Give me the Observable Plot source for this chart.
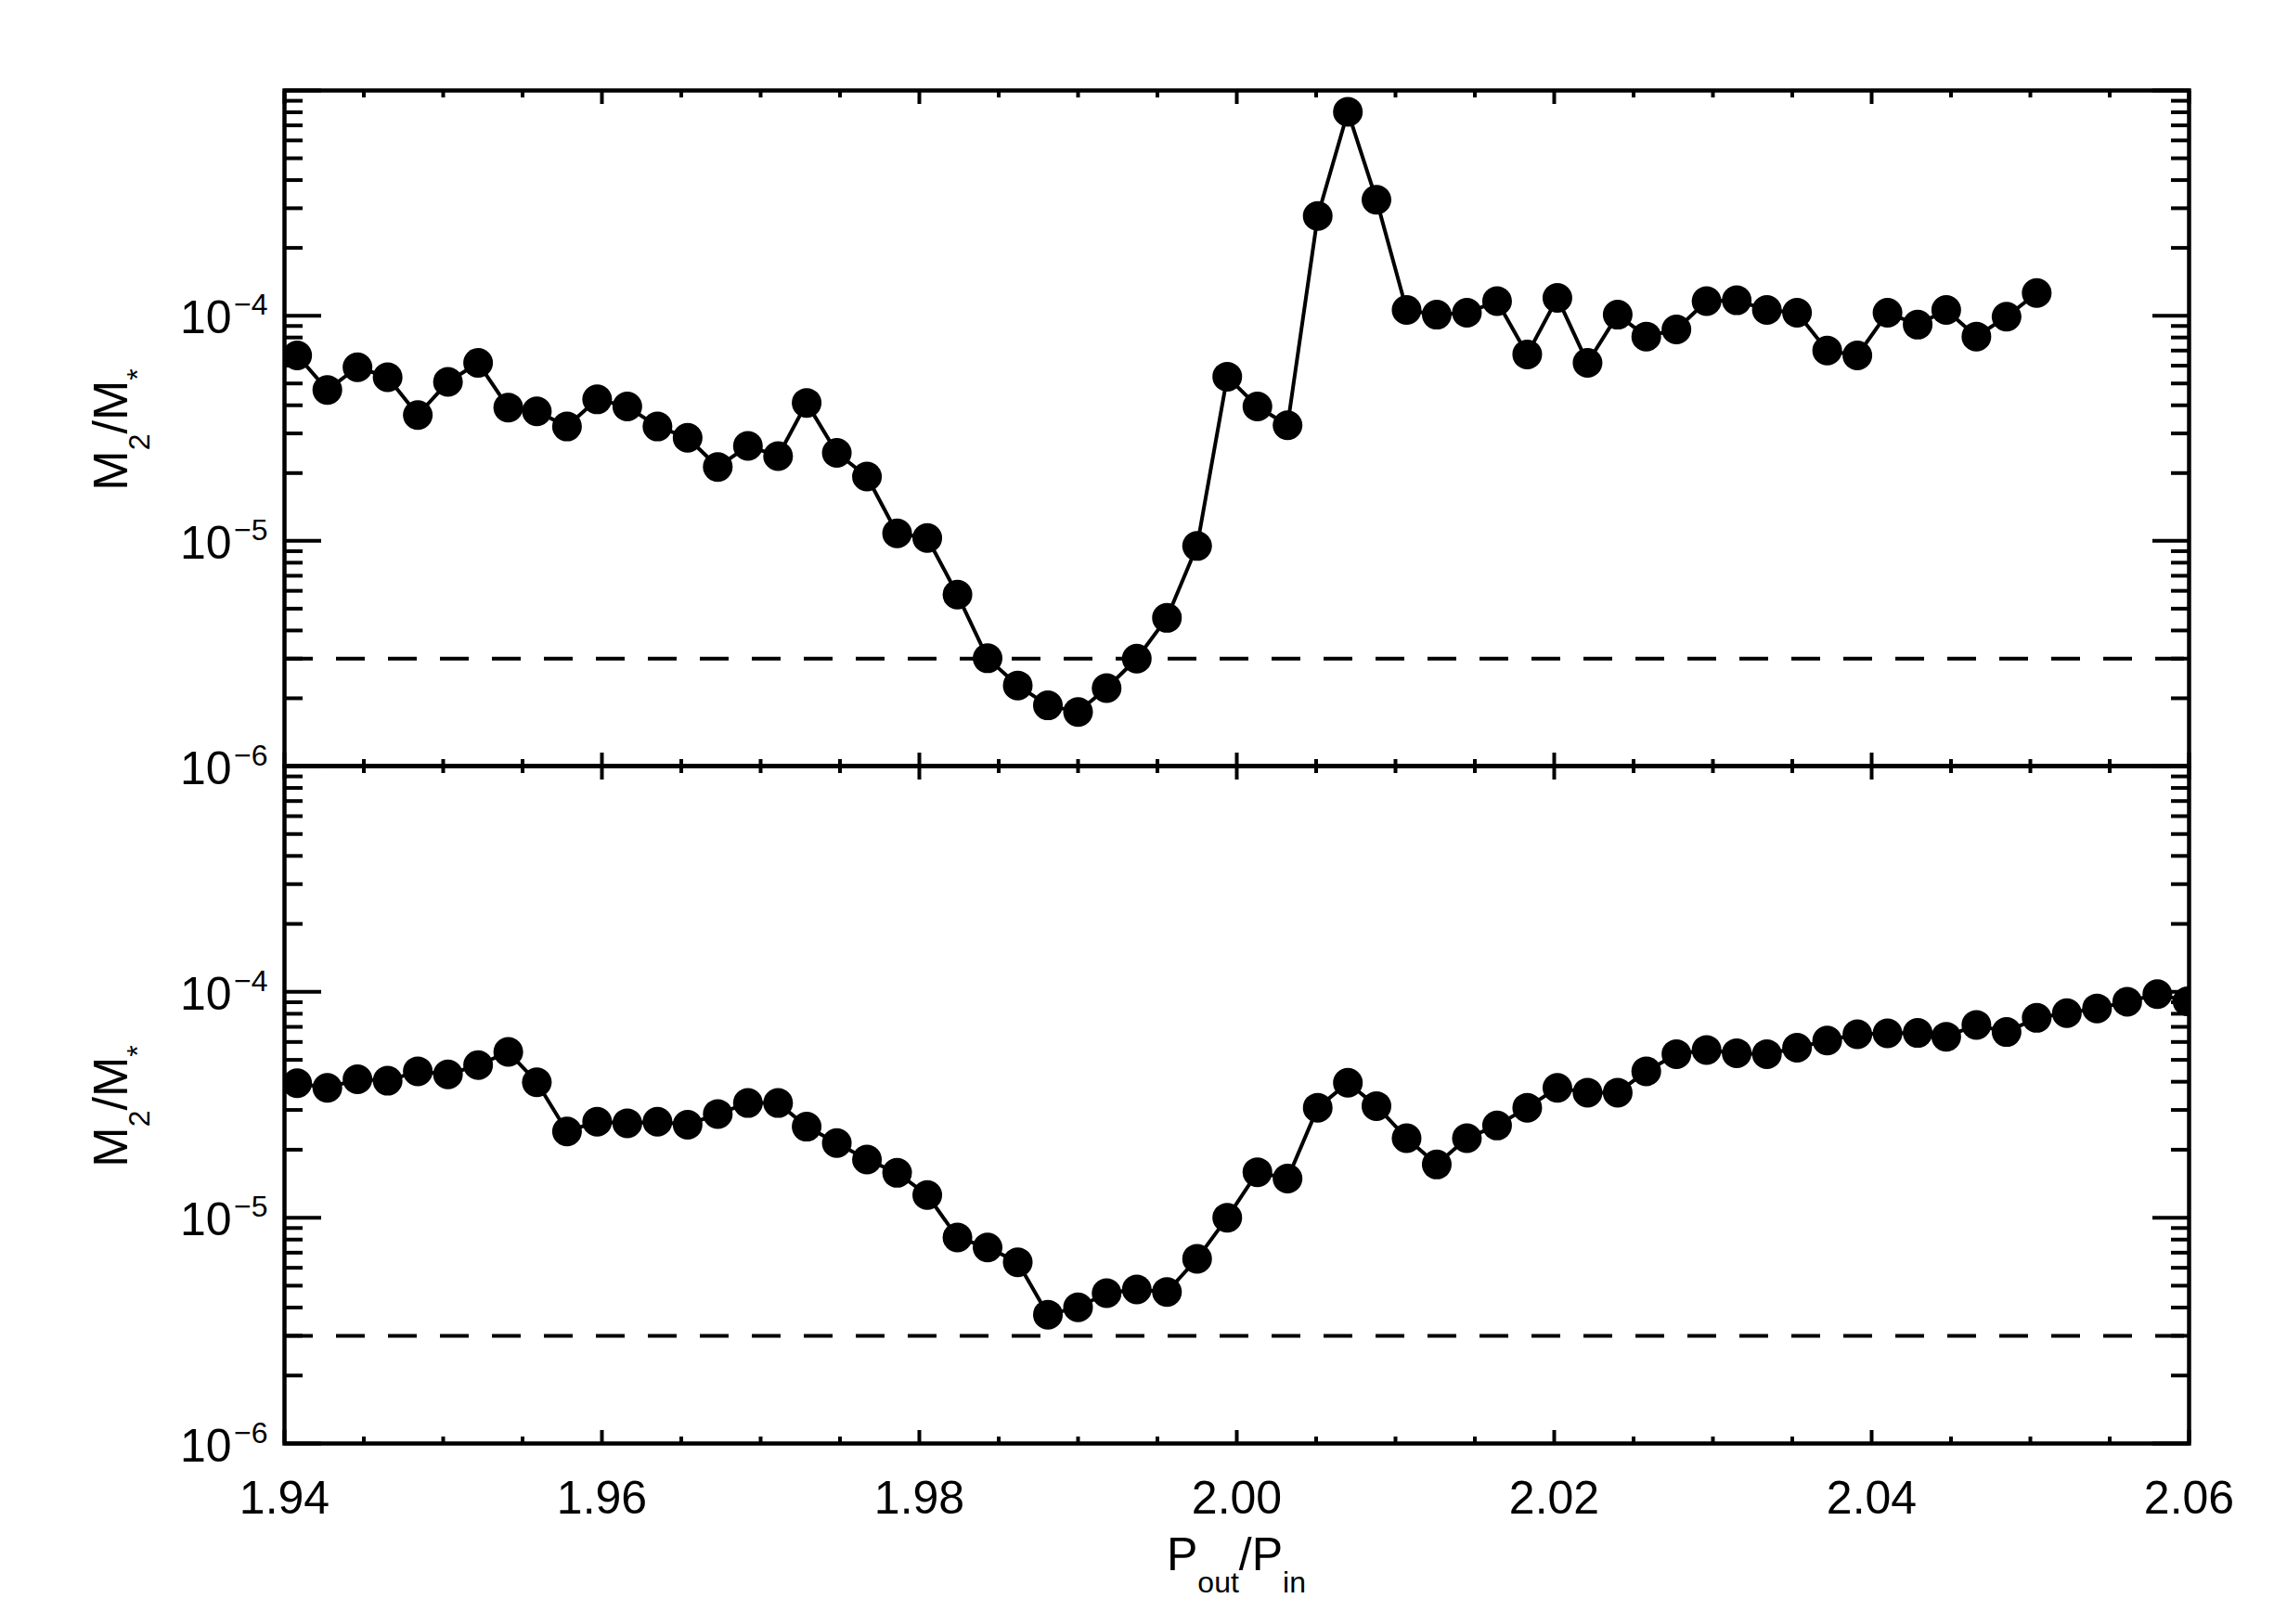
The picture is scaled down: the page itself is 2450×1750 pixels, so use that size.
<!DOCTYPE html>
<html>
<head>
<meta charset="utf-8">
<script src="https://cdn.jsdelivr.net/npm/d3@7"></script>
<script src="https://cdn.jsdelivr.net/npm/@observablehq/plot@0.6"></script>
<style>
  html, body { margin: 0; padding: 0; background: #fff; }
  #chart { position: relative; width: 2450px; height: 1750px; }
  #chart svg { display: block; overflow: visible; }
</style>
</head>
<body>
<div id="chart"></div>
<script>
// Period ratio P_out/P_in of each simulation
const ratio = [
  1.9408, 1.9427, 1.9446, 1.9465, 1.9484, 1.9503, 1.9522, 1.9541, 1.9559, 1.9578,
  1.9597, 1.9616, 1.9635, 1.9654, 1.9673, 1.9692, 1.9711, 1.9729, 1.9748, 1.9767,
  1.9786, 1.9805, 1.9824, 1.9843, 1.9862, 1.9881, 1.9900, 1.9918, 1.9937, 1.9956,
  1.9975, 1.9994, 2.0013, 2.0032, 2.0051, 2.0070, 2.0088, 2.0107, 2.0126, 2.0145,
  2.0164, 2.0183, 2.0202, 2.0221, 2.0240, 2.0258, 2.0277, 2.0296, 2.0315, 2.0334,
  2.0353, 2.0372, 2.0391, 2.0410, 2.0429, 2.0447, 2.0466, 2.0485, 2.0504, 2.0523,
  2.0542, 2.0561, 2.0580, 2.0599
];
// Upper panel: M2/M*
const massTop = [
  6.66e-5, 4.68e-5, 5.90e-5, 5.33e-5, 3.62e-5, 5.08e-5, 6.17e-5, 3.91e-5, 3.76e-5, 3.22e-5,
  4.25e-5, 3.95e-5, 3.22e-5, 2.87e-5, 2.13e-5, 2.64e-5, 2.38e-5, 4.10e-5, 2.46e-5, 1.93e-5,
  1.08e-5, 1.03e-5, 5.77e-6, 3.01e-6, 2.28e-6, 1.86e-6, 1.74e-6, 2.22e-6, 3.00e-6, 4.55e-6,
  9.49e-6, 5.36e-5, 3.95e-5, 3.26e-5, 2.77e-4, 8.04e-4, 3.27e-4, 1.06e-4, 1.01e-4, 1.03e-4,
  1.16e-4, 6.73e-5, 1.20e-4, 6.17e-5, 1.01e-4, 8.08e-5, 8.69e-5, 1.16e-4, 1.17e-4, 1.06e-4,
  1.03e-4, 7.00e-5, 6.66e-5, 1.03e-4, 9.12e-5, 1.06e-4, 8.08e-5, 9.90e-5, 1.26e-4
];
// Lower panel: M2/M*
const massBottom = [
  3.94e-5, 3.76e-5, 4.10e-5, 4.04e-5, 4.45e-5, 4.31e-5, 4.74e-5, 5.42e-5, 3.98e-5, 2.41e-5,
  2.66e-5, 2.62e-5, 2.66e-5, 2.58e-5, 2.88e-5, 3.22e-5, 3.22e-5, 2.53e-5, 2.14e-5, 1.81e-5,
  1.58e-5, 1.26e-5, 8.17e-6, 7.38e-6, 6.35e-6, 3.72e-6, 4.01e-6, 4.63e-6, 4.81e-6, 4.69e-6,
  6.58e-6, 1.00e-5, 1.59e-5, 1.49e-5, 3.07e-5, 3.96e-5, 3.12e-5, 2.25e-5, 1.72e-5, 2.25e-5,
  2.56e-5, 3.07e-5, 3.76e-5, 3.58e-5, 3.58e-5, 4.45e-5, 5.30e-5, 5.53e-5, 5.35e-5, 5.30e-5,
  5.66e-5, 6.09e-5, 6.49e-5, 6.55e-5, 6.58e-5, 6.33e-5, 7.14e-5, 6.64e-5, 7.67e-5, 8.05e-5,
  8.45e-5, 9.04e-5, 9.77e-5, 9.08e-5
];
const threshold = [3e-6];

const xDomain = [1.94, 2.06];
const yDomain = [1e-6, 1e-3];
const xMajor = [1.94, 1.96, 1.98, 2.00, 2.02, 2.04, 2.06];
const xMinor = [1.945, 1.95, 1.955, 1.965, 1.97, 1.975, 1.985, 1.99, 1.995,
                2.005, 2.01, 2.015, 2.025, 2.03, 2.035, 2.045, 2.05, 2.055];
const xTickLabels = ["1.94", "1.96", "1.98", "2.00", "2.02", "2.04", "2.06"];
const yMajor = [1e-6, 1e-5, 1e-4, 1e-3];
const yMinor = [2e-6, 3e-6, 4e-6, 5e-6, 6e-6, 7e-6, 8e-6, 9e-6,
                2e-5, 3e-5, 4e-5, 5e-5, 6e-5, 7e-5, 8e-5, 9e-5,
                2e-4, 3e-4, 4e-4, 5e-4, 6e-4, 7e-4, 8e-4, 9e-4];
const yLabelTicks = [1e-6, 1e-5, 1e-4];
const yExponents = ["\u22126", "\u22125", "\u22124"];

const FONT = "'Liberation Sans', Arial, Helvetica, sans-serif";
const W = 2450, ML = 306, MR = 92;
const TICK_W = 4;

function panel(values, {height, marginTop, marginBottom, xLabels}) {
  const data = values.map((m, i) => ({ratio: ratio[i], mass: m}));
  const tickAxes = [
    Plot.axisX(xMajor, {anchor: "bottom", tickSize: -14, strokeWidth: TICK_W, fill: "none"}),
    Plot.axisX(xMinor, {anchor: "bottom", tickSize: -7, strokeWidth: TICK_W, fill: "none"}),
    Plot.axisX(xMajor, {anchor: "top", tickSize: -14, strokeWidth: TICK_W, fill: "none"}),
    Plot.axisX(xMinor, {anchor: "top", tickSize: -7, strokeWidth: TICK_W, fill: "none"}),
    Plot.axisY(yMajor, {anchor: "left", tickSize: -40, strokeWidth: TICK_W, fill: "none"}),
    Plot.axisY(yMinor, {anchor: "left", tickSize: -20, strokeWidth: TICK_W, fill: "none"}),
    Plot.axisY(yMajor, {anchor: "right", tickSize: -40, strokeWidth: TICK_W, fill: "none"}),
    Plot.axisY(yMinor, {anchor: "right", tickSize: -20, strokeWidth: TICK_W, fill: "none"})
  ];
  const labelAxes = [
    Plot.axisY(yLabelTicks, {anchor: "left", tickSize: 0, tickPadding: 57, tickFormat: () => "10",
                        fontSize: 50, dy: 3, label: null}),
    Plot.axisY(yLabelTicks, {anchor: "left", tickSize: 0, tickPadding: 18,
                        tickFormat: d => yExponents[yLabelTicks.indexOf(d)],
                        fontSize: 32, dy: -11, label: null})
  ];
  if (xLabels) {
    labelAxes.push(Plot.axisX(xMajor, {anchor: "bottom", tickSize: 0, tickPadding: 40,
      tickFormat: d => xTickLabels[xMajor.indexOf(d)], fontSize: 50, label: null}));
  }
  const svg = Plot.plot({
    width: W, height, marginTop, marginBottom, marginLeft: ML, marginRight: MR,
    style: {fontFamily: FONT, fontSize: "50px", color: "black", background: "white", overflow: "visible"},
    x: {type: "linear", domain: xDomain},
    y: {type: "log", domain: yDomain},
    marks: [
      Plot.ruleY(threshold, {stroke: "black", strokeWidth: 4, strokeDasharray: "31,25"}),
      Plot.line(data, {x: "ratio", y: "mass", stroke: "black", strokeWidth: 4, clip: true}),
      Plot.dot(data, {x: "ratio", y: "mass", r: 16, fill: "black", stroke: "none", clip: true}),
      ...tickAxes,
      ...labelAxes,
      Plot.frame({stroke: "black", strokeWidth: 4.5})
    ]
  });
  // y-axis title M2/M*
  const cy = (marginTop + height - marginBottom) / 2 + 2;
  const t = d3.select(svg).append("text")
    .attr("transform", `translate(137,${cy}) rotate(-90)`)
    .attr("text-anchor", "middle")
    .attr("font-family", FONT)
    .attr("font-size", 52)
    .attr("fill", "black");
  t.append("tspan").text("M");
  t.append("tspan").attr("font-size", 32).attr("dy", 24).text("2");
  t.append("tspan").attr("dy", -24).text("/M");
  t.append("tspan").attr("font-size", 32).attr("dy", 22).text("*");
  return svg;
}

const topPanel = panel(massTop, {height: 825, marginTop: 97, marginBottom: 0, xLabels: false});
const bottomPanel = panel(massBottom, {height: 925, marginTop: 0, marginBottom: 195, xLabels: true});

// x-axis title P_out/P_in
const xl = d3.select(bottomPanel).append("text")
  .attr("x", (ML + W - MR) / 2)
  .attr("y", 867)
  .attr("text-anchor", "middle")
  .attr("font-family", FONT)
  .attr("font-size", 50)
  .attr("fill", "black");
xl.append("tspan").text("P");
xl.append("tspan").attr("font-size", 32).attr("dy", 24).text("out");
xl.append("tspan").attr("dy", -24).text("/P");
xl.append("tspan").attr("font-size", 32).attr("dy", 24).text("in");

const chart = document.getElementById("chart");
chart.appendChild(topPanel);
chart.appendChild(bottomPanel);
</script>
</body>
</html>
